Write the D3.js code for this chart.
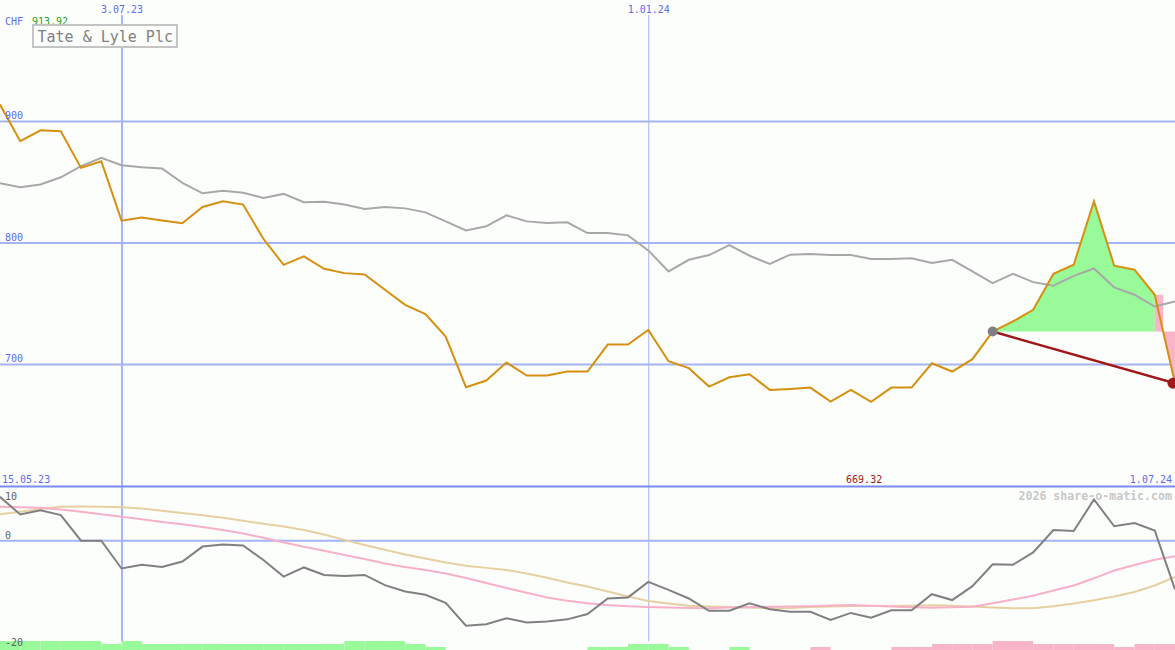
<!DOCTYPE html>
<html><head><meta charset="utf-8">
<script src="https://cdn.jsdelivr.net/npm/d3@7"></script>
<style>
body{margin:0;background:#fcfefc;overflow:hidden}
svg{display:block}
text{font-family:"DejaVu Sans Mono",monospace}
</style>
</head><body>
<svg id="c" width="1175" height="650"></svg>
<script>
// ---------- data ----------
const firstWeek = "22.05.23", lastWeek = "1.07.24";
const rangeLabelLeft = "15.05.23", rangeLabelRight = "1.07.24";
const gridDates = ["3.07.23", "1.01.24"];
const gridWidths = [2, 1];
const priceTicks = [700, 800, 900];
const momTicks = [10, 0, -20];
const title = "Tate & Lyle Plc";
const currency = "CHF";
const watermark = "2026 share-o-matic.com";

const price = [913.92, 883.8, 892.8, 892.0, 861.8, 867.3, 818.4, 820.9, 818.6, 816.2,
  829.7, 834.3, 831.6, 803.5, 782.0, 789.0, 778.8, 775.2, 774.1, 761.5,
  749.1, 741.5, 723.0, 681.3, 686.8, 701.6, 690.9, 690.9, 694.2, 694.2,
  716.4, 716.4, 728.5, 702.7, 697.0, 681.8, 689.5, 692.0, 679.1, 679.9,
  681.0, 669.5, 679.1, 669.32, 681.0, 681.0, 701.0, 694.2, 704.4, 727.1,
  735.4, 745.0, 774.7, 782.1, 834.3, 781.3, 778.0, 757.4, 684.6];

const benchmark = [849.1, 845.9, 848.1, 854.1, 863.2, 870.1, 864.0, 862.3, 861.3, 849.5,
  840.9, 843.1, 841.3, 837.1, 840.4, 833.5, 834.0, 831.6, 828.0, 829.7,
  828.5, 825.2, 817.8, 810.4, 813.7, 822.8, 817.8, 816.5, 817.0, 808.2,
  808.2, 806.3, 793.9, 776.6, 786.2, 790.1, 798.3, 789.5, 782.7, 790.4,
  790.9, 790.1, 790.1, 786.8, 786.8, 787.4, 783.5, 786.2, 776.6, 767.0,
  774.7, 767.8, 764.8, 773.0, 779.0, 763.4, 757.4, 747.7, 751.9];

const momentum = [8.2, 4.9, 5.7, 4.8, 0, 0, -5.2, -4.5, -4.9, -3.9,
  -1.1, -0.7, -0.9, -3.6, -6.7, -5.0, -6.4, -6.6, -6.4, -8.3,
  -9.5, -10.1, -11.6, -15.9, -15.6, -14.5, -15.3, -15.1, -14.7, -13.7,
  -10.8, -10.6, -7.7, -9.2, -10.8, -13.1, -13.1, -11.7, -12.8, -13.3,
  -13.3, -14.8, -13.5, -14.4, -13.0, -13.0, -10.0, -11.1, -8.5, -4.4,
  -4.5, -2.2, 2.0, 1.8, 7.7, 2.7, 3.3, 1.9, -9.1];

const maFast = [6.36, 6.26, 6.17, 5.83, 5.40, 4.93, 4.47, 4.02, 3.51, 3.08,
  2.56, 2.00, 1.35, 0.54, -0.34, -1.12, -1.89, -2.67, -3.42, -4.26,
  -4.92, -5.48, -6.13, -6.97, -7.91, -8.84, -9.72, -10.62, -11.23, -11.68,
  -12.02, -12.24, -12.39, -12.49, -12.58, -12.62, -12.50, -12.43, -12.36, -12.30,
  -12.24, -12.13, -12.04, -12.17, -12.32, -12.45, -12.52, -12.43, -12.36, -11.68,
  -10.99, -10.28, -9.31, -8.37, -7.03, -5.57, -4.54, -3.55, -2.90];

const maSlow = [4.93, 5.42, 5.93, 6.36, 6.39, 6.36, 6.26, 6.04, 5.61, 5.18,
  4.75, 4.28, 3.74, 3.16, 2.64, 2.00, 1.16, 0.15, -0.80, -1.68,
  -2.58, -3.33, -4.07, -4.69, -5.08, -5.48, -6.13, -6.93, -7.81, -8.56,
  -9.50, -10.43, -11.27, -11.74, -12.17, -12.30, -12.39, -12.50, -12.62, -12.58,
  -12.39, -12.30, -12.22, -12.21, -12.21, -12.15, -12.06, -12.15, -12.30, -12.49,
  -12.62, -12.64, -12.24, -11.74, -11.14, -10.43, -9.59, -8.37, -6.79];

// per-week signal bars (segment i spans week i .. week i+1)
const signal = [3, 3, 3, 3, 3, 2, 3, 2, 2, 2, 2, 2, 2, 2, 2, 2, 2, 3, 3, 3,
  2, 1, 0, 0, 0, 0, 0, 0, 0, 1, 1, 2, 2, 1, 0, 0, 1, 0, 0, 0,
  -1, 0, 0, 0, -1, -1, -2, -2, -2, -3, -3, -2, -2, -2, -2, -1, -2, -2];

const refIndex = 49;   // reference point (grey dot)

// ---------- setup ----------
const W = 1175, H = 650;
const svg = d3.select("#c");
const parse = d3.timeParse("%d.%m.%y");
const weeks = d3.timeMonday.range(parse(firstWeek), d3.timeDay.offset(parse(lastWeek), 1));

const x = d3.scaleTime().domain([weeks[0], weeks[weeks.length - 1]]).range([0, 1175]);
const y = d3.scaleLinear().domain([600, 1000]).range([486, 0]);
const ym = d3.scaleLinear().domain([-20, 10]).range([647.7, 487.2]);
const yb = d3.scaleLinear().domain([0, 3]).range([650, 641]);

const BLUE_GRID = "#a4b4f4", BLUE_TXT = "#5c6cf0";

svg.append("rect").attr("width", W).attr("height", H).attr("fill", "#fcfefc");

// ---------- signal bars ----------
svg.append("g").selectAll("rect").data(signal).join("rect")
  .attr("x", (d, i) => x(weeks[i]))
  .attr("width", (d, i) => x(weeks[i + 1]) - x(weeks[i]))
  .attr("y", d => yb(Math.abs(d)))
  .attr("height", d => yb(0) - yb(Math.abs(d)))
  .attr("fill", d => d >= 0 ? "#98fa98" : "#f8b4c8");

// ---------- grid ----------
const g = svg.append("g");
g.selectAll("line.h").data(priceTicks).join("line")
  .attr("x1", 0).attr("x2", W)
  .attr("y1", d => y(d)).attr("y2", d => y(d))
  .attr("stroke", BLUE_GRID).attr("stroke-width", 2);
g.selectAll("line.v").data(gridDates).join("line")
  .attr("x1", d => x(parse(d)) + 0.5).attr("x2", d => x(parse(d)) + 0.5)
  .attr("y1", 15).attr("y2", 641)
  .attr("stroke", BLUE_GRID).attr("stroke-width", (d, i) => gridWidths[i]);
// separator & zero line
g.append("line").attr("x1", 0).attr("x2", W).attr("y1", 486.5).attr("y2", 486.5)
  .attr("stroke", "#7a8af0").attr("stroke-width", 2);
g.append("line").attr("x1", 0).attr("x2", W).attr("y1", ym(0)).attr("y2", ym(0))
  .attr("stroke", BLUE_GRID).attr("stroke-width", 2);

// ---------- fills ----------
const base = price[refIndex];
const lastI = price.length - 1;
const area = d3.area().x(d => x(weeks[d])).y0(y(base)).y1(d => y(price[d]));
svg.append("path").datum(d3.range(refIndex, lastI))
  .attr("d", area).attr("fill", "#98fa98");
// crossing below reference on last segment
const p0 = price[lastI - 1], p1 = price[lastI];
const t = (p0 - base) / (p0 - p1);
const x0 = x(weeks[lastI - 1]), x1 = x(weeks[lastI]);
const xc = x0 + t * (x1 - x0);
svg.append("rect").attr("x", x0).attr("y", y(p0)).attr("width", xc - x0)
  .attr("height", y(base) - y(p0)).attr("fill", "#f8b4c8");
svg.append("path")
  .attr("d", `M${xc},${y(base)}L${x1},${y(p1)}L${W},${y(p1)}L${W},${y(base)}Z`)
  .attr("fill", "#f8b4c8");

// ---------- lines ----------
const line = arr => d3.line().x((d, i) => x(weeks[i])).y(d => y(d))(arr);
const mline = arr => d3.line().x((d, i) => x(weeks[i])).y(d => ym(d))(arr);

svg.append("path").attr("d", line(benchmark)).attr("fill", "none")
  .attr("stroke", "#a8a8a8").attr("stroke-width", 2);
svg.append("path").attr("d", line(price)).attr("fill", "none")
  .attr("stroke", "#d69010").attr("stroke-width", 2);

svg.append("path").attr("d", mline(maSlow)).attr("fill", "none")
  .attr("stroke", "#e6cfa0").attr("stroke-width", 2);
svg.append("path").attr("d", mline(maFast)).attr("fill", "none")
  .attr("stroke", "#f8b0c8").attr("stroke-width", 2);
svg.append("path").attr("d", mline(momentum)).attr("fill", "none")
  .attr("stroke", "#808080").attr("stroke-width", 2);

// trend line and dots
svg.append("line")
  .attr("x1", x(weeks[refIndex])).attr("y1", y(base))
  .attr("x2", x(weeks[lastI])).attr("y2", y(p1))
  .attr("stroke", "#a01818").attr("stroke-width", 2.5);
svg.append("circle").attr("cx", x(weeks[refIndex])).attr("cy", y(base)).attr("r", 5)
  .attr("fill", "#808080");
svg.append("circle").attr("cx", x(weeks[lastI]) - 2).attr("cy", y(p1)).attr("r", 5.5)
  .attr("fill", "#a01818");

// ---------- texts ----------
const txt = (s, px, py, opt = {}) => svg.append("text").text(s)
  .attr("x", px).attr("y", py)
  .attr("font-size", opt.size || 10)
  .attr("fill", opt.fill || BLUE_TXT)
  .attr("text-anchor", opt.anchor || "start")
  .attr("font-weight", opt.weight || "normal");

gridDates.forEach(d => txt(d, x(parse(d)) + 0.5, 12.5, {anchor: "middle"}));
priceTicks.forEach(v => txt(String(v), 5, y(v) - 2.5));
txt(currency, 5, 25);
txt(d3.format(".2f")(d3.max(price)), 32, 25, {fill: "#20a020"});

// title box
svg.append("rect").attr("x", 33).attr("y", 25).attr("width", 144).attr("height", 22)
  .attr("fill", "#fcfefc").attr("stroke", "#c4c4c4").attr("stroke-width", 2);
txt(title, 37.5, 41.5, {size: 15, fill: "#808080"});

// bottom range labels
txt(rangeLabelLeft, 2, 483);
txt(rangeLabelRight, 1172, 483, {anchor: "end"});
const minI = price.indexOf(d3.min(price));
txt(d3.format(".2f")(d3.min(price)), x(weeks[minI]) - 7, 483, {anchor: "middle", fill: "#a01818"});
txt(watermark, 1172, 500, {anchor: "end", size: 11.6, fill: "#c8c8c8", weight: "bold"});

// momentum ticks
txt(String(momTicks[0]), 5, 500, {fill: "#606060"});
txt(String(momTicks[1]), 5, 539, {fill: "#606060"});
txt(String(momTicks[2]), 5, 646, {fill: "#606060"});
</script>
</body></html>
